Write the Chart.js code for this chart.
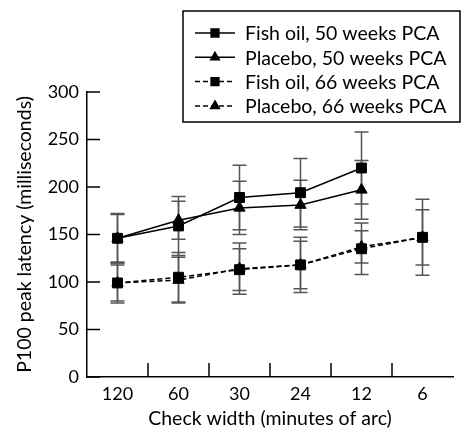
<!DOCTYPE html>
<html>
<head>
<meta charset="utf-8">
<script src="https://cdn.jsdelivr.net/npm/chart.js@4/dist/chart.umd.min.js"></script>
<style>
  html, body { margin: 0; padding: 0; background: #fff; }
  #wrap { width: 461px; height: 432px; position: relative; }
</style>
</head>
<body>
<div id="wrap"><canvas id="latencyChart"></canvas></div>
<script>
// check widths (minutes of arc)
const checkWidths = ['120', '60', '30', '24', '12', '6'];

// P100 latency means (ms)
const fishOil50 = [146, 159, 189, 194, 220, null];
const placebo50 = [146, 165, 178, 181, 197, null];
const fishOil66 = [99, 105, 113, 118, 135, 147];
const placebo66 = [99, 102, 114, 118, 137, 147];

// error bar half-lengths (ms)
const fishOil50Err = [25, 31, 34, 36, 38, null];
const placebo50Err = [26, 20, 28, 26, 31, null];
const fishOil66Err = [19, 26, 22, 25, 27, 40];
const placebo66Err = [21, 24, 27, 29, 17, 29];

const yTicks = [0, 50, 100, 150, 200, 250, 300];

const seriesLabels = [
  'Fish oil, 50 weeks PCA',
  'Placebo, 50 weeks PCA',
  'Fish oil, 66 weeks PCA',
  'Placebo, 66 weeks PCA'
];

const FONT = 'Lato, "DejaVu Sans", sans-serif';

function makeDataset(label, values, errors, style, dashed) {
  return {
    label: label,
    data: values,
    errors: errors,
    borderColor: '#000',
    backgroundColor: '#000',
    borderWidth: 1.5,
    borderDash: dashed ? [5, 3] : [],
    pointStyle: style,
    pointRadius: style === 'rect' ? 7 : 6.5,
    pointBorderWidth: 1,
    pointBackgroundColor: '#000',
    pointBorderColor: '#000',
    tension: 0,
    fill: false
  };
}

// error bars drawn behind the markers
const errorBars = {
  id: 'errorBars',
  beforeDatasetsDraw(chart) {
    const ctx = chart.ctx;
    const x = chart.scales.x, y = chart.scales.y;
    ctx.save();
    ctx.strokeStyle = '#555';
    ctx.lineWidth = 1.5;
    chart.data.datasets.forEach(ds => {
      ds.data.forEach((v, i) => {
        const e = ds.errors[i];
        if (v == null || e == null) return;
        const px = x.getPixelForValue(i);
        const top = y.getPixelForValue(v + e);
        const bot = y.getPixelForValue(v - e);
        ctx.beginPath();
        ctx.moveTo(px, top); ctx.lineTo(px, bot);
        ctx.moveTo(px - 7, top); ctx.lineTo(px + 7, top);
        ctx.moveTo(px - 7, bot); ctx.lineTo(px + 7, bot);
        ctx.stroke();
      });
    });
    ctx.restore();
  }
};

// inward tick marks on both axes
const innerTicks = {
  id: 'innerTicks',
  afterDraw(chart) {
    const ctx = chart.ctx;
    const area = chart.chartArea;
    const x = chart.scales.x, y = chart.scales.y;
    ctx.save();
    ctx.strokeStyle = '#000';
    ctx.lineWidth = 1.5;
    ctx.beginPath();
    yTicks.forEach(v => {
      const py = y.getPixelForValue(v);
      ctx.moveTo(area.left, py);
      ctx.lineTo(area.left + 13, py);
    });
    for (let i = 0; i < checkWidths.length - 1; i++) {
      const px = (x.getPixelForValue(i) + x.getPixelForValue(i + 1)) / 2;
      ctx.moveTo(px, area.bottom);
      ctx.lineTo(px, area.bottom - 14);
    }
    ctx.stroke();
    ctx.restore();
  }
};

// boxed legend with line + marker samples
const boxLegend = {
  id: 'boxLegend',
  afterDraw(chart) {
    const ctx = chart.ctx;
    const left = 183, top = 11, right = 460, bottom = 122;
    ctx.save();
    ctx.fillStyle = '#fff';
    ctx.fillRect(left, top, right - left, bottom - top);
    ctx.strokeStyle = '#000';
    ctx.lineWidth = 1.5;
    ctx.strokeRect(left, top, right - left, bottom - top);
    chart.data.datasets.forEach((ds, i) => {
      const rowY = 33 + i * 24.3;
      ctx.strokeStyle = '#000';
      ctx.lineWidth = 1.5;
      ctx.setLineDash(ds.borderDash);
      ctx.beginPath();
      ctx.moveTo(195, rowY);
      ctx.lineTo(235, rowY);
      ctx.stroke();
      ctx.setLineDash([]);
      ctx.fillStyle = '#000';
      Chart.helpers.drawPoint(ctx, {
        pointStyle: ds.pointStyle,
        radius: ds.pointStyle === 'rect' ? 5.5 : 5,
        rotation: 0,
        borderWidth: 1
      }, 215, rowY);
      ctx.fillStyle = '#000';
      ctx.font = '19.5px ' + FONT;
      ctx.textBaseline = 'middle';
      ctx.textAlign = 'left';
      ctx.fillText(ds.label, 245, rowY + 1);
    });
    ctx.restore();
  }
};

const ctx = document.getElementById('latencyChart').getContext('2d');

new Chart(ctx, {
  type: 'line',
  data: {
    labels: checkWidths,
    datasets: [
      makeDataset(seriesLabels[0], fishOil50, fishOil50Err, 'rect', false),
      makeDataset(seriesLabels[1], placebo50, placebo50Err, 'triangle', false),
      makeDataset(seriesLabels[2], fishOil66, fishOil66Err, 'rect', true),
      makeDataset(seriesLabels[3], placebo66, placebo66Err, 'triangle', true)
    ]
  },
  options: {
    responsive: true,
    maintainAspectRatio: false,
    animation: false,
    layout: {
      padding: { top: 92, right: -6, bottom: 0, left: 0 }
    },
    plugins: {
      legend: { display: false },
      tooltip: { enabled: false }
    },
    scales: {
      x: {
        type: 'category',
        offset: true,
        afterFit: scale => { scale.height = 55; },
        grid: { display: false, drawTicks: false },
        border: { display: true, color: '#000', width: 1.5 },
        ticks: {
          color: '#000',
          padding: 6,
          maxRotation: 0,
          font: { family: FONT, size: 18 }
        },
        title: {
          display: true,
          text: 'Check width (minutes of arc)',
          color: '#000',
          padding: { top: 0, bottom: 2 },
          font: { family: FONT, size: 19.5 }
        }
      },
      y: {
        min: 0,
        max: 300,
        afterFit: scale => { scale.width = 87; },
        afterBuildTicks: scale => { scale.ticks = yTicks.map(v => ({ value: v })); },
        grid: { display: false, drawTicks: false },
        border: { display: true, color: '#000', width: 1.5 },
        ticks: {
          color: '#000',
          padding: 8,
          font: { family: FONT, size: 18 }
        },
        title: {
          display: true,
          text: 'P100 peak latency (milliseconds)',
          color: '#000',
          padding: { top: 13, bottom: 0 },
          font: { family: FONT, size: 19.5 }
        }
      }
    }
  },
  plugins: [errorBars, innerTicks, boxLegend]
});
</script>
</body>
</html>
